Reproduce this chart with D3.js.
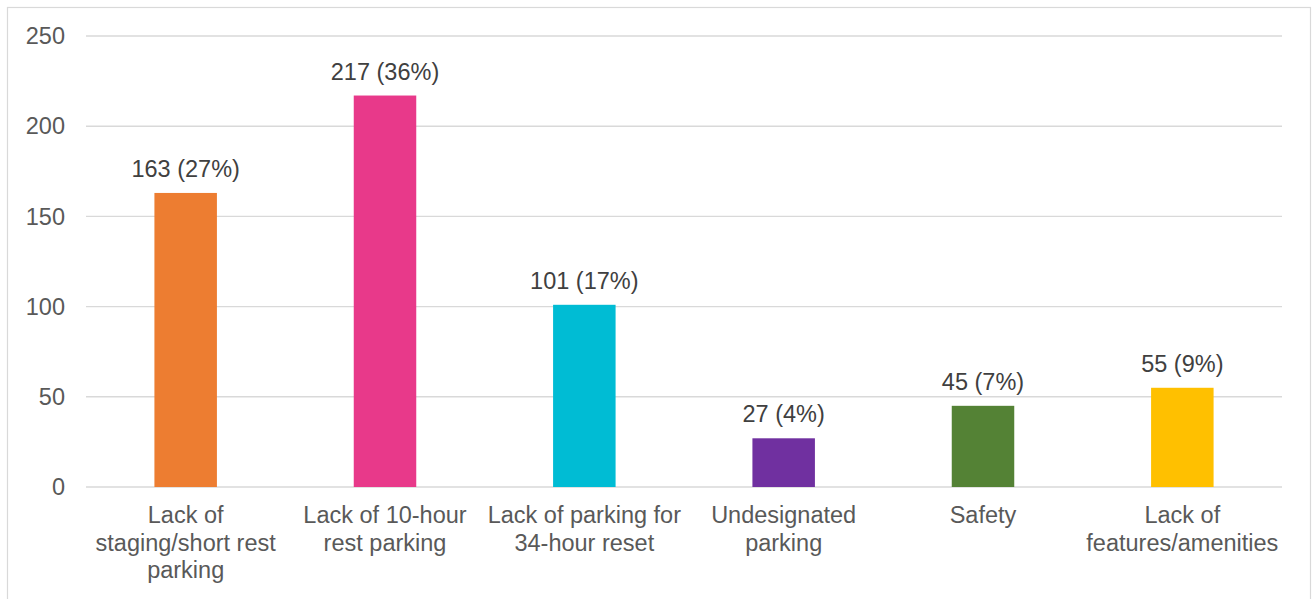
<!DOCTYPE html>
<html>
<head>
<meta charset="utf-8">
<script src="https://cdn.jsdelivr.net/npm/d3@7"></script>
<style>
  body { margin: 0; background: #fff; }
  text { font-family: "Liberation Sans", Arial, sans-serif; }
</style>
</head>
<body>
<div id="chart"></div>
<script>
// data
var categories = ["Lack of\nstaging/short rest\nparking", "Lack of 10-hour\nrest parking", "Lack of parking for\n34-hour reset", "Undesignated\nparking", "Safety", "Lack of\nfeatures/amenities"];
var counts = [163, 217, 101, 27, 45, 55];
var percents = ["27%", "36%", "17%", "4%", "7%", "9%"];
var colors = ["#ED7D31", "#E8398A", "#00BCD4", "#7030A0", "#548235", "#FFC000"];
var yTicks = [0, 50, 100, 150, 200, 250];

var W = 1312, H = 599;
var margin = {top: 36, right: 30, bottom: 112, left: 86};
var width = 1282 - margin.left,
    height = 487 - margin.top;

var svg = d3.select("#chart").append("svg")
    .attr("width", W)
    .attr("height", H);

// outer border
svg.append("rect")
    .attr("x", 7.5).attr("y", 7.5)
    .attr("width", 1303).attr("height", 620)
    .attr("fill", "none")
    .attr("stroke", "#d9d9d9")
    .attr("stroke-width", 1.2);

var g = svg.append("g")
    .attr("transform", "translate(" + margin.left + "," + margin.top + ")");

var x = d3.scaleBand()
    .domain(categories)
    .range([0, width])
    .padding(0);

var y = d3.scaleLinear()
    .domain([0, 250])
    .range([height, 0]);

var barW = 62.5;

// gridlines
g.append("g").selectAll("line")
    .data(yTicks)
  .enter().append("line")
    .attr("x1", 0).attr("x2", width)
    .attr("y1", function(d) { return y(d); })
    .attr("y2", function(d) { return y(d); })
    .attr("stroke", "#d9d9d9")
    .attr("stroke-width", 1.4);

// y tick labels
g.append("g").selectAll("text")
    .data(yTicks)
  .enter().append("text")
    .attr("x", -21)
    .attr("y", function(d) { return y(d); })
    .attr("dy", "0.35em")
    .attr("text-anchor", "end")
    .attr("fill", "#595959")
    .style("font-size", "23.5px")
    .text(function(d) { return d; });

// bars
g.append("g").selectAll("rect")
    .data(counts)
  .enter().append("rect")
    .attr("x", function(d, i) { return x(categories[i]) + x.bandwidth() / 2 - barW / 2; })
    .attr("y", function(d) { return y(d); })
    .attr("width", barW)
    .attr("height", function(d) { return y(0) - y(d); })
    .attr("fill", function(d, i) { return colors[i]; });

// data labels
g.append("g").selectAll("text")
    .data(counts)
  .enter().append("text")
    .attr("x", function(d, i) { return x(categories[i]) + x.bandwidth() / 2; })
    .attr("y", function(d) { return y(d) - 16; })
    .attr("text-anchor", "middle")
    .attr("fill", "#404040")
    .style("font-size", "23.5px")
    .text(function(d, i) { return d + " (" + percents[i] + ")"; });

// category labels
var cat = g.append("g").selectAll("text")
    .data(categories)
  .enter().append("text")
    .attr("x", function(d) { return x(d) + x.bandwidth() / 2; })
    .attr("y", height + 36)
    .attr("text-anchor", "middle")
    .attr("fill", "#595959")
    .style("font-size", "23.5px");

cat.each(function(d) {
  var t = d3.select(this);
  d.split("\n").forEach(function(line, k) {
    t.append("tspan")
      .attr("x", x(d) + x.bandwidth() / 2)
      .attr("y", height + 36 + k * 27.5)
      .text(line);
  });
});
</script>
</body>
</html>
